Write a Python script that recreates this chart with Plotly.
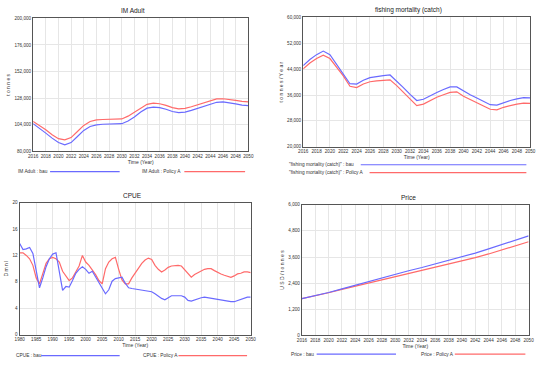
import plotly.graph_objects as go

# ---------------- data ----------------
years_a = list(range(2016, 2051))
im_adult_bau = [105000, 101000, 96500, 92000, 88000, 86000, 88000, 93500, 99000, 102500,
                104000, 104500, 104600, 104600, 105000, 107500, 111000, 115500, 119000, 120000,
                119500, 118000, 116000, 115000, 115500, 117000, 118800, 120800, 122800, 124300,
                124600, 124000, 122800, 121800, 121300]
im_adult_pol = [107000, 103500, 99500, 95000, 91500, 90500, 92500, 98000, 103500, 107000,
                108500, 108800, 108900, 108900, 109300, 111800, 115500, 119500, 122500, 123500,
                123000, 121500, 119500, 118400, 118800, 120300, 122000, 124000, 126000, 127300,
                127500, 127000, 126000, 125200, 124600]

fish_bau = [45140, 47000, 48500, 49600, 48500, 45500, 42600, 39500, 39400, 40600,
            41400, 41800, 42000, 42200, 40400, 38300, 36200, 34300, 34700, 35800,
            36800, 37700, 38500, 38500, 37200, 36100, 35100, 34000, 33000, 32900,
            33700, 34300, 34800, 35200, 35100]
fish_pol = [44100, 45900, 47300, 48300, 47300, 44700, 41900, 38700, 38300, 39400,
            40100, 40400, 40600, 40700, 38900, 36800, 34700, 32700, 33200, 34300,
            35300, 36100, 36800, 37000, 35600, 34600, 33700, 32600, 31600, 31400,
            32200, 32800, 33200, 33500, 33400]

years_c = list(range(1980, 2051))
cpue_bau = [13.8, 12.9, 13.0, 13.2, 12.3, 9.6, 7.1, 8.6, 10.3, 11.5,
            12.2, 12.4, 9.3, 6.7, 7.3, 7.2, 8.2, 9.3, 9.9, 10.3,
            9.9, 9.3, 9.6, 8.8, 7.9, 7.1, 6.2, 6.8, 8.1, 8.5,
            8.6, 8.7, 7.8, 7.1, 7.0, 6.9, 6.85, 6.8, 6.7, 6.6,
            6.5, 6.2, 5.8, 5.5, 5.3, 5.6, 5.9, 5.9, 5.9, 5.9,
            5.7, 5.2, 5.1, 5.3, 5.5, 5.6, 5.7, 5.6, 5.6, 5.5,
            5.3, 5.2, 5.1, 5.0, 5.0, 5.0, 5.2, 5.4, 5.6, 5.7, 5.7]
cpue_pol = [12.4, 12.4, 12.0, 11.5, 10.5, 8.6, 7.7, 9.3, 10.8, 11.5,
            11.7, 11.5, 11.0, 9.6, 8.8, 8.2, 8.6, 9.6, 10.4, 12.0,
            11.0, 10.5, 9.8, 9.1, 8.2, 7.7, 10.0, 11.0, 11.5, 11.7,
            9.9, 8.3, 7.7, 7.7, 8.6, 9.3, 10.0, 10.8, 11.3, 11.6,
            11.4, 10.5, 9.9, 9.5, 9.8, 10.2, 10.4, 10.5, 10.5, 10.4,
            9.8, 9.2, 8.7, 9.1, 9.4, 9.7, 9.9, 10.0, 10.0, 9.7,
            9.4, 9.2, 9.0, 8.8, 8.7, 8.9, 9.2, 9.3, 9.5, 9.5, 9.4]

years_p = list(range(2016, 2051, 2))
price_bau = [1690, 1820, 1970, 2140, 2310, 2480, 2650, 2820, 2970, 3120,
             3280, 3430, 3600, 3780, 3970, 4160, 4360, 4570]
price_pol = [1690, 1815, 1960, 2115, 2260, 2410, 2555, 2700, 2840, 2980,
             3120, 3260, 3410, 3570, 3740, 3920, 4110, 4300]

ticks_a = list(range(2016, 2051, 2))
ticks_c = list(range(1980, 2051, 5))

BLUE = "#6a6aff"
RED = "#ff6a6a"
FONT = "Liberation Sans"
TXT = "#333333"
W, H = 550, 370

def px(x):
    return x / W

def py(y):
    return 1 - y / H

fig = go.Figure()

panels = [
    dict(xs=years_a, b=im_adult_bau, p=im_adult_pol, xd=(28.7, 248.3), yd=(16.5, 151.5),
         yr=(80000, 200000), dt=24000, xt=ticks_a, xr=(2016, 2050),
         yt="t o n n e s", fmt=",d"),
    dict(xs=years_a, b=fish_bau, p=fish_pol, xd=(304.3, 536.0), yd=(15.7, 146.7),
         yr=(20000, 60000), dt=8000, xt=ticks_a, xr=(2016, 2050),
         yt="t o n n e s / Y e a r", fmt=",d"),
    dict(xs=years_c, b=cpue_bau, p=cpue_pol, xd=(15.0, 250.7), yd=(203.3, 337.3),
         yr=(0, 20), dt=4, xt=ticks_c, xr=(1980, 2050),
         yt="D m n l", fmt="d"),
    dict(xs=years_p, b=price_bau, p=price_pol, xd=(303.0, 534.3), yd=(205.5, 338.0),
         yr=(0, 6000), dt=1200, xt=ticks_a, xr=(2016, 2050),
         yt="U S D / t o n n e s", fmt=",d"),
]

for i, pn in enumerate(panels, start=1):
    xa = "x" if i == 1 else f"x{i}"
    ya = "y" if i == 1 else f"y{i}"
    fig.add_trace(go.Scatter(x=pn["xs"], y=pn["p"], mode="lines", xaxis=xa, yaxis=ya,
                             line=dict(color=RED, width=1.2), showlegend=False, hoverinfo="skip"))
    fig.add_trace(go.Scatter(x=pn["xs"], y=pn["b"], mode="lines", xaxis=xa, yaxis=ya,
                             line=dict(color=BLUE, width=1.2), showlegend=False, hoverinfo="skip"))
    xkey = "xaxis" if i == 1 else f"xaxis{i}"
    ykey = "yaxis" if i == 1 else f"yaxis{i}"
    fig.layout[xkey] = dict(
        domain=[px(pn["xd"][0]), px(pn["xd"][1])], anchor=ya, range=list(pn["xr"]),
        tickvals=pn["xt"], ticktext=[str(t) for t in pn["xt"]], ticks="", tickangle=0,
        showgrid=True, gridcolor="#e6e6e6", gridwidth=1, zeroline=False,
        showline=True, linecolor="#555555", linewidth=1.3, mirror=True,
        tickfont=dict(family=FONT, size=4.6, color=TXT),
        title=dict(text="Time (Year)", font=dict(family=FONT, size=5, color=TXT), standoff=2),
        fixedrange=True,
    )
    fig.layout[ykey] = dict(
        domain=[py(pn["yd"][1]), py(pn["yd"][0])], anchor=xa, range=list(pn["yr"]),
        dtick=pn["dt"], tick0=pn["yr"][0], tickformat=pn["fmt"], ticks="",
        showgrid=True, gridcolor="#e6e6e6", gridwidth=1, zeroline=False,
        showline=True, linecolor="#555555", linewidth=1.3, mirror=True,
        tickfont=dict(family=FONT, size=4.6, color=TXT),
        title=dict(text=pn["yt"], font=dict(family=FONT, size=5, color=TXT), standoff=3),
        fixedrange=True,
    )

# panel titles
titles = [("IM Adult", 131, 9), ("fishing mortality (catch)", 412, 8),
          ("CPUE", 130, 196), ("Price", 412, 198)]
for t, x, y in titles:
    fig.add_annotation(text=t, x=px(x), y=py(y), xref="paper", yref="paper",
                       xanchor="center", yanchor="middle",
                       showarrow=False, font=dict(family=FONT, size=6.5, color="#222222"))

# legends (text followed by a line sample, Vensim style)
legend_items = [
    ("IM Adult : bau", 11, 172, 46, 117, BLUE),
    ("IM Adult : Policy A", 138, 172, 183, 245, RED),
    ("\"fishing mortality (catch)\" : bau", 288, 165, 363, 532, BLUE),
    ("\"fishing mortality (catch)\" : Policy A", 288, 173, 372, 532, RED),
    ("CPUE : bau", 9, 358.5, 37, 117, BLUE),
    ("CPUE : Policy A", 139, 358.5, 177, 247, RED),
    ("Price : bau", 290, 357, 318, 399, BLUE),
    ("Price : Policy A", 422, 357, 459, 531, RED),
]
for txt, tx, ty, lx0, lx1, col in legend_items:
    fig.add_annotation(text=txt, x=px(tx), y=py(ty), xref="paper", yref="paper",
                       xanchor="left", yanchor="middle", showarrow=False,
                       font=dict(family=FONT, size=4.8, color=TXT))
    fig.add_shape(type="line", xref="paper", yref="paper",
                  x0=px(lx0), x1=px(lx1), y0=py(ty), y1=py(ty),
                  line=dict(color=col, width=1.2))

fig.update_layout(
    width=W, height=H, margin=dict(l=0, r=0, t=0, b=0),
    paper_bgcolor="white", plot_bgcolor="white", showlegend=False,
)

fig.write_html("out.html", config={"displayModeBar": False},
               post_script="document.body.style.margin='0px';")
